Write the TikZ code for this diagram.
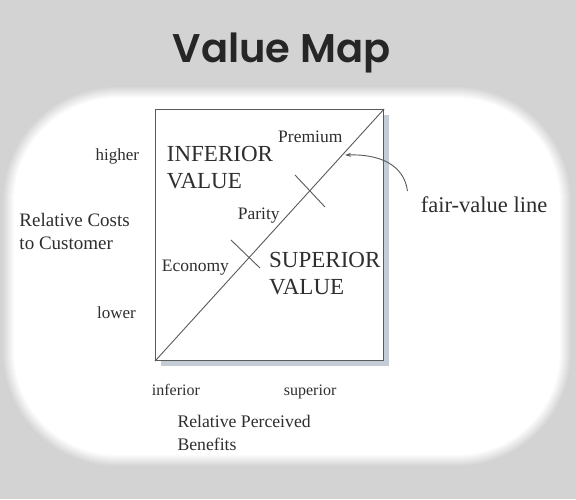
\documentclass[tikz,border=0pt]{standalone}
\usepackage{fontspec}
\setmainfont{Liberation Serif}
\newfontfamily\titlefont{Poppins SemiBold}
\usetikzlibrary{arrows.meta}
\definecolor{bg}{HTML}{D3D3D3}
\definecolor{ink}{HTML}{2E2E2E}
\definecolor{titleink}{HTML}{262626}
\definecolor{linec}{HTML}{5A5A5A}
\definecolor{shadowc}{HTML}{C4CCD6}
\begin{document}
\begin{tikzpicture}[x=1pt,y=-1pt,
  lbl/.style={inner sep=0pt, text=ink, anchor=base west},
  lble/.style={inner sep=0pt, text=ink, anchor=base east},
  big/.style={font=\fontsize{23}{26}\selectfont},
  mid/.style={font=\fontsize{17.5}{21}\selectfont},
  thin/.style={draw=linec, line width=0.9pt}]
\useasboundingbox (0,0) rectangle (576,499);
\fill[bg] (0,0) rectangle (576,499);
\foreach \i in {0,...,12}{
  \pgfmathsetmacro\p{\i*100/12}
  \pgfmathsetmacro\r{115-\i}
  \fill[white!\p!bg, rounded corners=\r pt] (2+\i,86+\i) rectangle (572-\i,467-\i);
}
% title
\node[inner sep=0pt, anchor=base, text=titleink, font=\titlefont\fontsize{40}{48}\selectfont] (title) at (281.5,62) {Value Map};
% box with shadow
\fill[shadowc] (161,115) rectangle (389,366);
\node[draw=linec, line width=1.1pt, fill=white, minimum width=228pt, minimum height=251pt, inner sep=0pt, anchor=north west] (box) at (155,109) {};
\draw[thin] (box.south west) -- (box.north east);
% cross marks
\coordinate (c1a) at (295,175);
\coordinate (c1b) at (325,207);
\coordinate (c2a) at (231,240);
\coordinate (c2b) at (260,268);
\draw[thin] (c1a) -- (c1b);
\draw[thin] (c2a) -- (c2b);
% labels inside
\node[lbl, mid] (premium) at (278,142.7) {Premium};
\node[lbl, big] (inf1) at (166.7,161.7) {INFERIOR};
\node[lbl, big] (inf2) at (166.7,188) {VALUE};
\node[lbl, mid] (parity) at (237.7,219) {Parity};
\node[lbl, mid] (economy) at (161.7,271.7) {Economy};
\node[lbl, big] (sup1) at (269,267.7) {SUPERIOR};
\node[lbl, big] (sup2) at (269,294) {VALUE};
% fair value line
\node[lbl, font=\fontsize{22.5}{26}\selectfont] (fvl) at (420.7,212.7) {fair-value line};
\coordinate (as) at (407.5,191);
\coordinate (ae) at (345,155);
\draw[thin, -{Stealth[length=6pt,width=4pt]}] (as) .. controls (404,165) and (380,154) .. (ae);
% axis labels
\node[lble, font=\fontsize{17}{20}\selectfont] (higher) at (139.3,160) {higher};
\node[lble, font=\fontsize{17}{20}\selectfont] (lower) at (136,318.3) {lower};
\node[lbl, font=\fontsize{19}{22}\selectfont] (rc1) at (19.3,226.7) {Relative Costs};
\node[lbl, font=\fontsize{19}{22}\selectfont] (rc2) at (19.3,249.3) {to Customer};
\node[lbl, font=\fontsize{16}{20}\selectfont] (inferior) at (151.7,395.7) {inferior};
\node[lbl, font=\fontsize{16}{20}\selectfont] (superior) at (283.7,395.7) {superior};
\node[lbl, font=\fontsize{17.7}{22}\selectfont] (rp1) at (177.3,427.3) {Relative Perceived};
\node[lbl, font=\fontsize{17.7}{22}\selectfont] (rp2) at (177.3,450) {Benefits};
\end{tikzpicture}
\end{document}
